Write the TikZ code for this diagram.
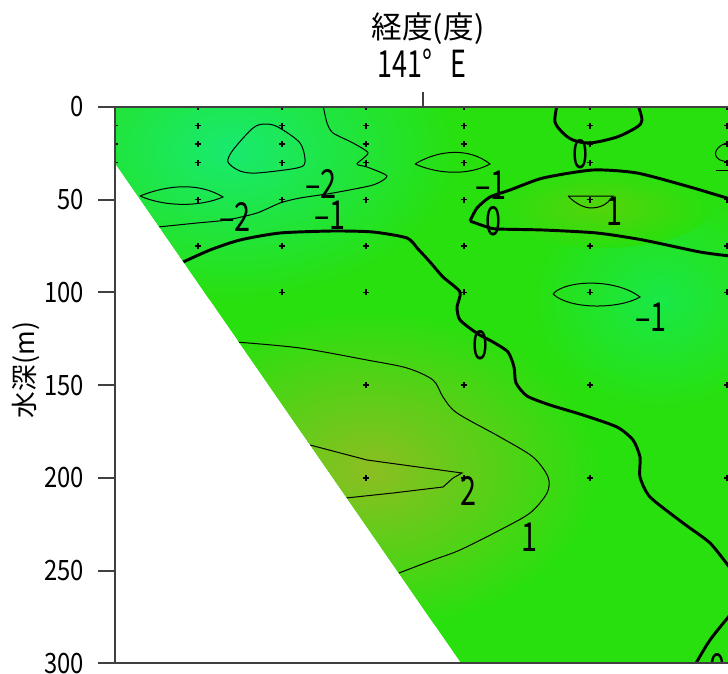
\documentclass[tikz,border=0pt]{standalone}
\usepackage{fontspec}
\setmainfont{Noto Sans CJK JP}
\newfontfamily\narrowfont[FakeStretch=0.72]{Noto Sans CJK JP}
\newfontfamily\tickfont[FakeStretch=0.85]{Noto Sans CJK JP}
\definecolor{base}{RGB}{40,224,14}
\definecolor{cool}{RGB}{24,234,112}
\definecolor{coolR}{RGB}{26,232,72}
\definecolor{warm}{RGB}{140,190,34}
\definecolor{lobe}{RGB}{84,212,12}
\definecolor{axisgray}{RGB}{64,64,64}

\begin{document}
\begin{tikzpicture}[x=0.75pt, y=-0.75pt,
  axis/.style={axisgray, line width=1.5pt},
  iso/.style={black, line width=0.75pt},
  zero/.style={black, line width=2.2pt, line join=round},
  stn/.style={black, line width=1.1pt},
  lab/.style={inner sep=0pt, font=\narrowfont\fontsize{30}{30}\selectfont},
  tick/.style={inner sep=0pt, font=\tickfont\fontsize{21}{21}\selectfont}
]
\useasboundingbox (0,0) rectangle (728,674);

\begin{scope}
\clip (115,107) -- (728,107) -- (728,663) -- (461,663) -- (115,163) -- cycle;
\fill[base] (100,100) rectangle (728,674);
\shade[inner color=cool, outer color=base] (230,150) ellipse [x radius=230, y radius=150];
\shade[inner color=coolR, outer color=base] (660,300) ellipse [x radius=130, y radius=110];
\shade[inner color=warm, outer color=base] (370,470) ellipse [x radius=230, y radius=160];
\shade[inner color=lobe, outer color=base] (600,208) ellipse [x radius=110, y radius=40];

% thin isolines
\draw[iso] plot[smooth, tension=0.4] coordinates {(158,227) (197,223) (227,220) (257,213)
  (280,203) (300,198) (333,193) (373,185) (387,176) (367,167) (357,164) (368,153)
  (353,143) (333,133) (327,123) (323,105)};
\draw[iso] plot[smooth cycle, tension=0.5] coordinates {(228,162) (233,150) (253,128)
  (265,124) (278,127) (300,143) (305,162) (297,168) (257,173) (240,171)};
\draw[iso] (140,196) .. controls (170,184) and (200,183) .. (223,197)
  .. controls (200,207) and (165,207) .. (140,196);
\draw[iso] (415,164) .. controls (440,149) and (470,148) .. (490,164)
  .. controls (470,175) and (440,175) .. (415,164);
\draw[iso] (553,294) .. controls (565,280) and (615,278) .. (640,297)
  .. controls (620,309) and (570,310) .. (553,294);
\draw[iso] (568,196) -- (613,196) .. controls (607,205) and (600,208) .. (590,208)
  .. controls (580,207) and (572,200) .. (568,196);
\draw[iso] (730,142) .. controls (716,145) and (711,155) .. (720,160) -- (730,163);
\draw[iso] (716,170) -- (730,170);
\draw[iso] plot[smooth, tension=0.5] coordinates {(236,342) (300,348) (367,360) (407,368)
  (433,380) (443,397) (457,413) (500,437) (533,457) (548,477) (547,493) (530,513)
  (500,530) (460,550) (433,560) (399,573)};
\draw[iso] (310,445) -- (367,460) -- (462,473) -- (453,478) -- (443,487) -- (393,493)
  -- (346,498);

% zero isolines
\draw[zero] plot[smooth, tension=0.4] coordinates {(181,263) (210,250) (240,240)
  (280,233) (333,231) (373,232) (407,238) (418,249) (430,262) (443,277) (460,292)
  (457,307) (460,320) (478,334) (493,342) (508,352) (514,367) (516,383) (527,396)
  (550,405) (583,415) (617,427) (633,440) (640,457) (640,477) (650,497) (683,523)
  (710,543) (730,568)};
\draw[zero] plot[smooth, tension=0.4] coordinates {(730,199) (690,187) (637,173)
  (593,170) (543,178) (510,190) (490,197) (477,208) (470,221)};
\draw[zero] plot[smooth, tension=0.4] coordinates {(470,221) (487,227) (497,229)
  (543,230) (597,233) (643,240) (700,252) (730,256)};
\draw[zero] plot[smooth, tension=0.5] coordinates {(557,105) (555,122) (563,133)
  (573,140) (590,143) (617,137) (637,127) (642,120) (638,105)};
\draw[zero] plot[smooth, tension=0.5] coordinates {(730,615) (710,640) (695,665)};

% stations
\foreach \x/\ds in {115/{0,10,20,30}, 198/{0,10,20,30,50,75},
    282/{0,10,20,30,50,75,100}, 366/{0,10,20,30,50,75,100,150,200},
    464/{0,10,20,30,50,75,100,150,200}, 590/{0,10,20,30,50,75,100,150,200},
    727/{0,10,20,30,50,75,100,150,200}}
  \foreach \d in \ds {
    \pgfmathsetmacro\yy{107+\d*1.854}
    \draw[stn] (\x,\yy) +(-3,0) -- +(3,0) +(0,-3) -- +(0,3);
  }

\node[lab] (m2a) at (321,184) {–2};
\node[lab] (m2b) at (235,217) {–2};
\node[lab] (m1a) at (330,215) {–1};
\node[lab] (m1b) at (491,185) {–1};
\node[lab] (m1c) at (651,317) {–1};
\node[lab] (z1) at (580,154) {0};
\node[lab] (z2) at (493,221) {0};
\node[lab] (z3) at (480,345) {0};
\node[lab] (z4) at (717,668) {0};
\node[lab] (p1a) at (614,211) {1};
\node[lab] (p1b) at (529,537) {1};
\node[lab] (p2) at (468,491) {2};
\end{scope}

% axes
\draw[axis] (115,107) -- (728,107);
\draw[axis] (115,107) -- (115,663);
\draw[axis] (115,663) -- (728,663);
\draw[axis] (423,92) -- (423,107);
\foreach \d in {0,50,...,300} {
  \draw[axis] (98,{107+\d*1.854}) -- (115,{107+\d*1.854});
  \node[tick, anchor=east] (t\d) at (84,{107+\d*1.854}) {\d};
}

\node[inner sep=0pt, font=\fontsize{23}{23}\selectfont] (lontitle) at (428,29) {経度(度)};
\node[inner sep=0pt, font=\narrowfont\fontsize{28}{28}\selectfont] (lonval) at (422,63) {141°\hspace{0.5em}E};
\node[inner sep=0pt, rotate=90, font=\fontsize{20}{20}\selectfont] (depth) at (26,370) {水深(m)};
\end{tikzpicture}
\end{document}
